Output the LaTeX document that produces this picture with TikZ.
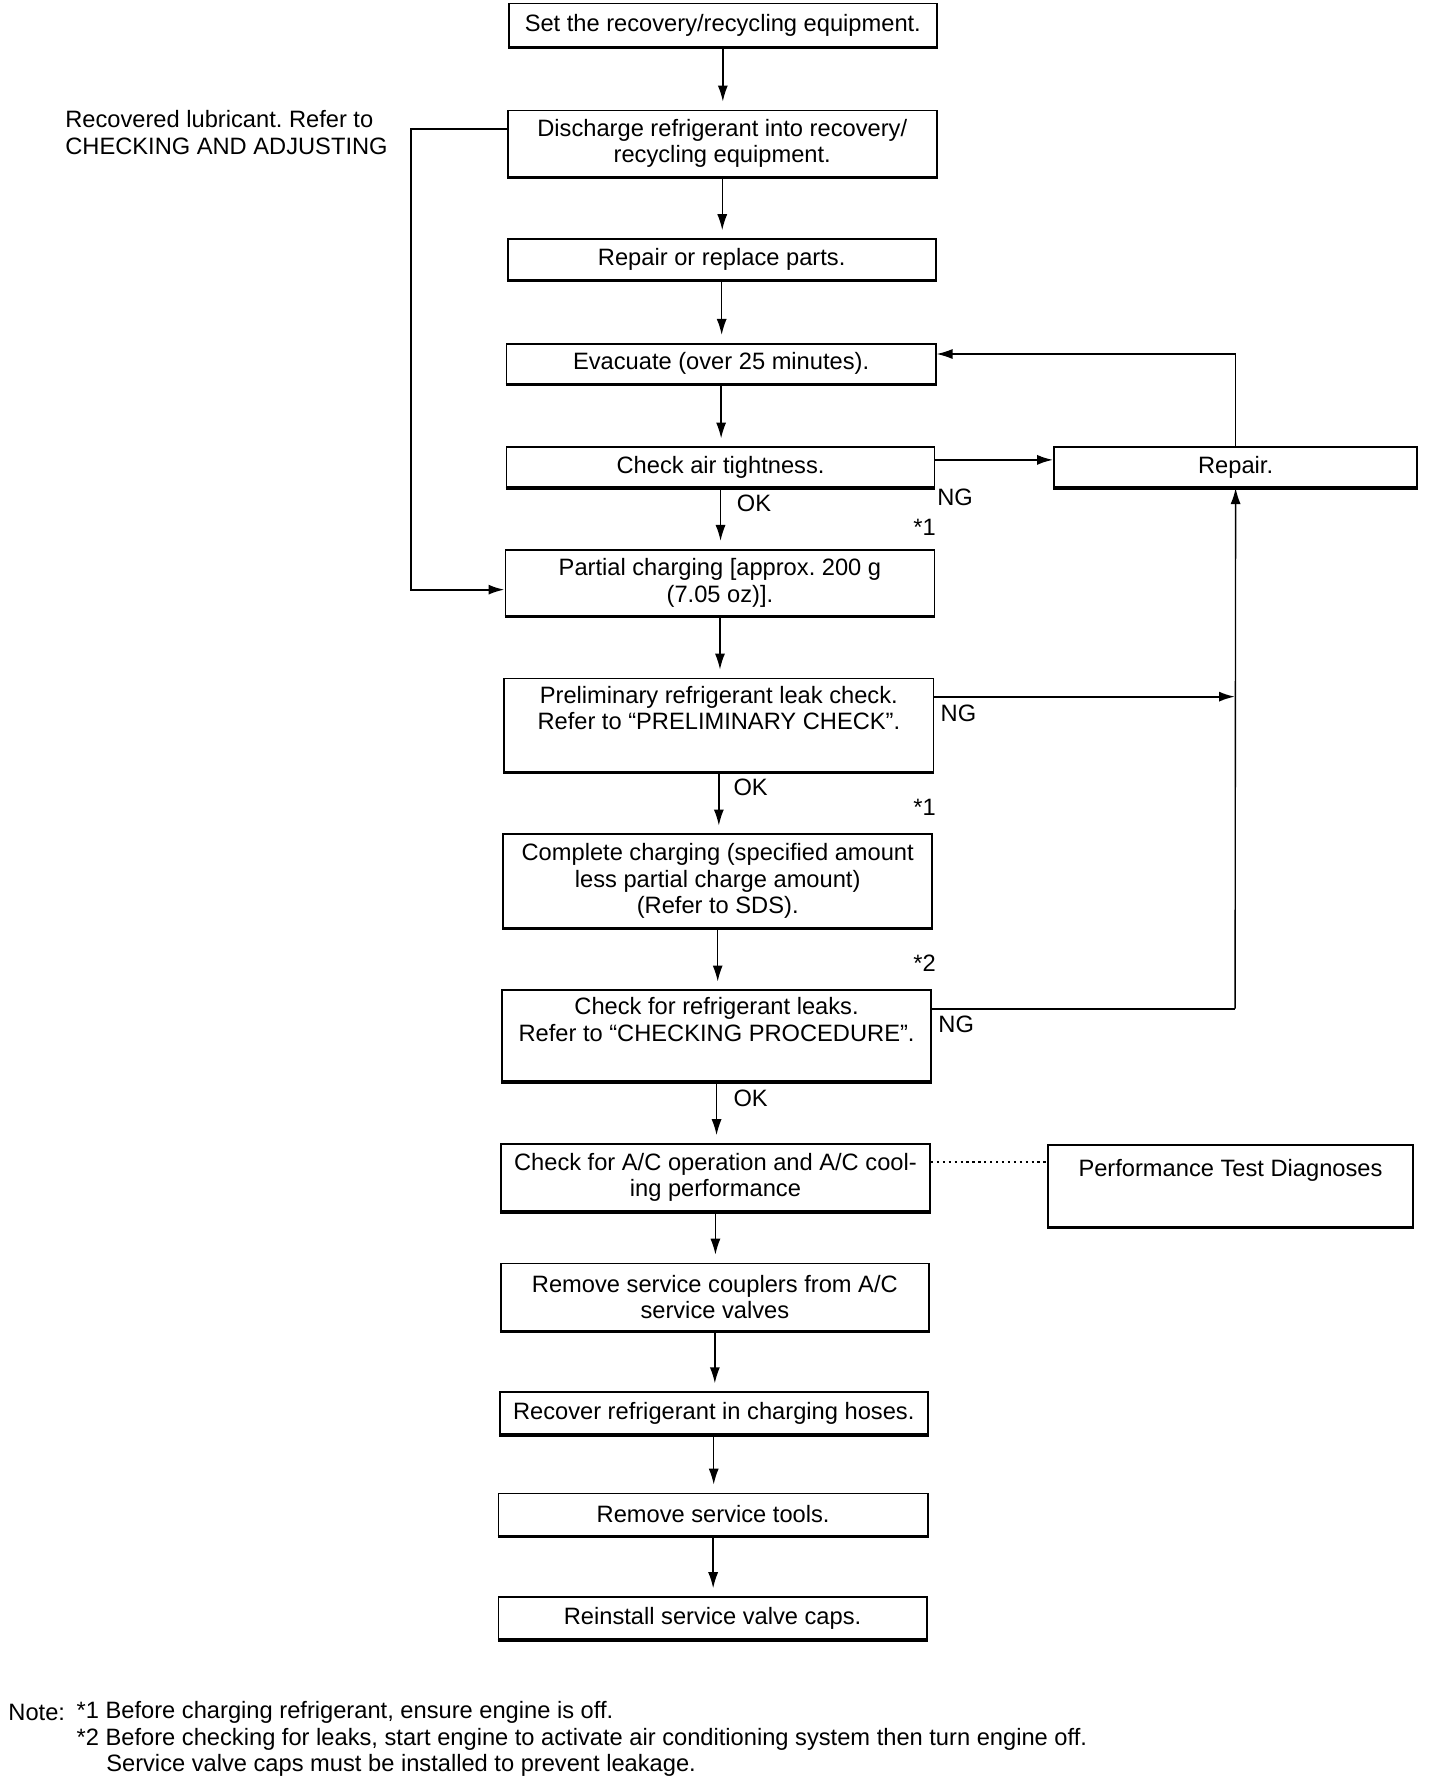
\documentclass[tikz,border=0pt]{standalone}
\usepackage{fontspec}
\setmainfont{Liberation Sans}
\usetikzlibrary{arrows.meta}
\frenchspacing
\newcommand{\fs}{\fontsize{10.4pt}{11.6pt}\selectfont}
\begin{document}
\begin{tikzpicture}[x=0.5pt,y=-0.5pt,
  box/.style={draw, line width=0.8pt, inner sep=0pt, align=center, font=\fs},
  txt/.style={inner sep=0pt, align=center, font=\fs},
  lbl/.style={inner sep=0pt, anchor=west, font=\fs},
  arr/.style={-{Latex[length=7pt,width=4.4pt]}, line width=0.6pt},
  arrg/.style={arr, shorten >=3.5pt},
  ln/.style={line width=0.9pt}]
\useasboundingbox (0,0) rectangle (1265,1569);
% boxes
\node[box, minimum width=188pt, minimum height=19pt] (b1) at (635,22) {Set the recovery/recycling equipment.};
\node[box, minimum width=188.5pt, minimum height=29pt] (b2) at (634.5,126) {Discharge refrigerant into recovery/\\recycling equipment.};
\node[box, minimum width=188pt, minimum height=18pt] (b3) at (634,228) {Repair or replace parts.};
\node[box, minimum width=188.5pt, minimum height=17.5pt] (b4) at (633.5,319.5) {Evacuate (over 25 minutes).};
\node[box, minimum width=188pt, minimum height=17.5pt] (b5) at (633,410.5) {Check air tightness.};
\node[box, minimum width=159.5pt, minimum height=17.5pt] (rep) at (1085.5,410.5) {Repair.};
\node[box, minimum width=188.5pt, minimum height=29pt] (b6) at (632.5,512) {Partial charging [approx. 200 g\\(7.05 oz)].};
\node[box, minimum width=188.5pt, minimum height=41pt] (b7) at (631.5,637) {};
\node[txt] (t7) at (631.5,622) {Preliminary refrigerant leak check.\\Refer to “PRELIMINARY CHECK”.};
\node[box, minimum width=188.5pt, minimum height=41pt] (b8) at (630.5,774) {Complete charging (specified amount\\less partial charge amount)\\(Refer to SDS).};
\node[box, minimum width=188.5pt, minimum height=40pt] (b9) at (629.5,910) {};
\node[txt] (t9) at (629.5,895.5) {Check for refrigerant leaks.\\Refer to “CHECKING PROCEDURE”.};
\node[box, minimum width=188.5pt, minimum height=29.5pt] (b10) at (628.5,1034.5) {Check for A/C operation and A/C cool-\\ing performance};
\node[box, minimum width=160pt, minimum height=36pt] (ptd) at (1081,1042) {};
\node[txt] (tp) at (1081,1028) {Performance Test Diagnoses};
\node[box, minimum width=188pt, minimum height=29.5pt] (b11) at (628,1139.5) {Remove service couplers from A/C\\service valves};
\node[box, minimum width=188pt, minimum height=18.5pt] (b12) at (627,1241.5) {Recover refrigerant in charging hoses.};
\node[box, minimum width=188.5pt, minimum height=18.5pt] (b13) at (626.5,1330.5) {Remove service tools.};
\node[box, minimum width=188pt, minimum height=18.5pt] (b14) at (626,1421.5) {Reinstall service valve caps.};
\foreach \n in {b1,b2,b3,b4,b5,rep,b6,b7,b8,b9,b10,ptd,b11,b12,b13,b14}
  \draw[line width=1.3pt] (\n.south west) -- (\n.south east);
% main chain
\foreach \a/\b in {b1/b2,b2/b3,b3/b4,b4/b5,b5/b6,b6/b7,b7/b8,b8/b9,b9/b10,b10/b11,b11/b12,b12/b13,b13/b14}
  \draw[arrg] (\a.south) -- (\a.south |- \b.north);
% side text and loop
\node[lbl, align=left] (side) at (57,116.5) {Recovered lubricant. Refer to\\CHECKING AND ADJUSTING};
\coordinate (l1) at (361,113);
\coordinate (l2) at (361,518);
\draw[arr, ln] (b2.west |- l1) -- (l1) -- (l2) -- (b6.west |- l2);
% repair loop
\coordinate (r1) at (1085,311);
\draw[arr, ln] (b5.east |- 0,404) -- (rep.west |- 0,404);
\draw[arr] (rep.north) -- (rep.north |- r1) -- (b4.east |- r1);
\coordinate (j1) at (1085,612);
\coordinate (j2) at (1085,886);
\draw[arr, ln] (b7.east |- j1) -- (j1);
\draw[ln] (b9.east |- j2) -- (j2);
\draw[arr] (j2) -- (rep.south);
% dotted
\draw[line width=0.7pt, dash pattern=on 1pt off 1.6pt] (b10.east |- 0,1021) -- (ptd.west |- 0,1021);
% labels
\node[lbl] (ok1) at (647,442) {OK};
\node[lbl] (ok2) at (644,692) {OK};
\node[lbl] (ok3) at (644,965) {OK};
\node[lbl] (ng1) at (823,437) {NG};
\node[lbl] (ng2) at (826,627) {NG};
\node[lbl] (ng3) at (824,900) {NG};
\node[lbl] (s1) at (802,463) {*1};
\node[lbl] (s2) at (802,709) {*1};
\node[lbl] (s3) at (802,846) {*2};
% notes
\node[lbl] (n0) at (7,1504) {Note:};
\node[lbl] (n1) at (67,1504) {*1 Before charging refrigerant, ensure engine is off.};
\node[lbl] (n2) at (67,1528) {*2 Before checking for leaks, start engine to activate air conditioning system then turn engine off.};
\node[lbl] (n3) at (93,1551) {Service valve caps must be installed to prevent leakage.};
\end{tikzpicture}
\end{document}
